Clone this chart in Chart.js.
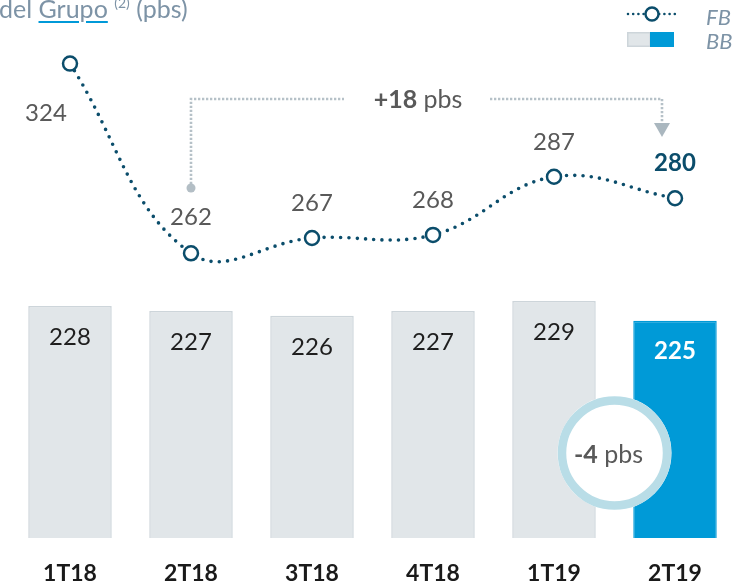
<!DOCTYPE html>
<html><head><meta charset="utf-8">
<script src="https://cdn.jsdelivr.net/npm/chart.js@4.4.0/dist/chart.umd.min.js"></script>
<style>
html,body{margin:0;padding:0;background:#fff;overflow:hidden;width:733px;height:586px;}
#wrap{position:absolute;left:0;top:0;width:745px;height:610px;}
#title{position:absolute;left:-1px;top:-7px;font-family:Lato,sans-serif;font-size:25px;color:#7d93a6;white-space:nowrap;}
#title .u{text-decoration:underline;text-decoration-color:#0099d8;text-decoration-thickness:2px;text-underline-offset:3px;}
#title sup{font-size:14px;position:relative;top:-1px;}
.leg{position:absolute;left:706px;font-family:Lato,sans-serif;font-style:italic;font-size:22px;color:#7d93a6;white-space:nowrap;}
</style></head>
<body>
<div id="wrap"><canvas id="c" width="745" height="610"></canvas></div>
<div id="title">del <span class="u">Grupo</span> <sup>(2)</sup> (pbs)</div>
<div class="leg" id="legFB" style="top:3px"></div>
<div class="leg" id="legBB" style="top:27px"></div>
<script>
const categories = ['1T18','2T18','3T18','4T18','1T19','2T19'];
const fbValues = [324, 262, 267, 268, 287, 280];
const bbValues = [228, 227, 226, 227, 229, 225];
const seriesNames = ['FB', 'BB'];
const fbChange = '+18';
const bbChange = '-4';
const unitText = 'pbs';

document.getElementById('legFB').textContent = seriesNames[0];
document.getElementById('legBB').textContent = seriesNames[1];

const TEAL = '#0b4d6b';
const GREY_BAR = '#e1e6e9';
const GREY_BORDER = '#cdd5da';
const BLUE = '#009ad7';
const LABEL = '#595959';
const last = categories.length - 1;

function dotted(ctx, pts, color) {
  ctx.save();
  ctx.strokeStyle = color; ctx.lineWidth = 2.6; ctx.setLineDash([2.3, 1.7]);
  ctx.beginPath(); ctx.moveTo(pts[0][0], pts[0][1]);
  for (let i = 1; i < pts.length; i++) ctx.lineTo(pts[i][0], pts[i][1]);
  ctx.stroke(); ctx.restore();
}
function richText(ctx, parts, cx, cy, size) {
  let w = 0;
  const widths = parts.map(p => { ctx.font = (p[1] ? 'bold ' : '') + size + 'px Lato'; const m = ctx.measureText(p[0]).width; w += m; return m; });
  let x = cx - w / 2;
  parts.forEach((p, i) => { ctx.font = (p[1] ? 'bold ' : '') + size + 'px Lato'; ctx.textAlign = 'left'; ctx.textBaseline = 'middle'; ctx.fillText(p[0], x, cy); x += widths[i]; });
}

const overlay = {
  id: 'overlay',
  afterDatasetsDraw(chart) {
    const ctx = chart.ctx;
    const xs = chart.scales.x, yB = chart.scales.yBB, yF = chart.scales.yFB;
    ctx.save();
    ctx.textAlign = 'center'; ctx.textBaseline = 'middle';
    bbValues.forEach((v, i) => {
      const x = xs.getPixelForValue(i), y = yB.getPixelForValue(v) + 31;
      ctx.font = (i === last ? 'bold ' : '') + '24px Lato';
      ctx.fillStyle = i === last ? '#ffffff' : '#1e1e1e';
      ctx.fillText(String(v), x, y);
    });
    const offs = [[-24, 50], [0, -36], [0, -35], [0, -35], [0, -35], [0, -35]];
    fbValues.forEach((v, i) => {
      const x = xs.getPixelForValue(i) + offs[i][0], y = yF.getPixelForValue(v) + offs[i][1];
      ctx.font = (i === last ? 'bold ' : '') + '24px Lato';
      ctx.fillStyle = i === last ? TEAL : LABEL;
      ctx.fillText(String(v), x, y);
    });
    ctx.restore();

    const x1 = xs.getPixelForValue(1), x6 = xs.getPixelForValue(last) - 13;
    const yTop = 99, yDot = 188;
    dotted(ctx, [[x1, yDot - 4], [x1, yTop], [344, yTop]], '#b6c1c8');
    dotted(ctx, [[490, yTop], [x6, yTop], [x6, 122]], '#b6c1c8');
    ctx.save();
    ctx.fillStyle = '#b3bec5';
    ctx.beginPath(); ctx.arc(x1, yDot, 4.5, 0, Math.PI * 2); ctx.fill();
    ctx.fillStyle = '#aab7bf';
    ctx.beginPath(); ctx.moveTo(x6 - 8, 123); ctx.lineTo(x6 + 8, 123); ctx.lineTo(x6, 137); ctx.closePath(); ctx.fill();
    ctx.fillStyle = LABEL;
    richText(ctx, [[fbChange, true], [' ' + unitText, false]], 418, 100, 25);
    ctx.restore();

    const bx = (xs.getPixelForValue(last - 1) + xs.getPixelForValue(last)) / 2, by = 453;
    ctx.save();
    ctx.fillStyle = '#ffffff';
    ctx.beginPath(); ctx.arc(bx, by, 57, 0, Math.PI * 2); ctx.fill();
    ctx.strokeStyle = '#b9dde7'; ctx.lineWidth = 8.5;
    ctx.beginPath(); ctx.arc(bx, by, 52.5, 0, Math.PI * 2); ctx.stroke();
    ctx.fillStyle = LABEL;
    richText(ctx, [[bbChange, true], [' ' + unitText, false]], bx - 6, by + 2, 25);
    ctx.restore();

    ctx.save();
    ctx.strokeStyle = TEAL; ctx.lineWidth = 2.6; ctx.lineCap = 'round'; ctx.setLineDash([0, 5.2]);
    ctx.beginPath(); ctx.moveTo(628, 14); ctx.lineTo(678, 14); ctx.stroke();
    ctx.setLineDash([]);
    ctx.fillStyle = '#fff'; ctx.lineWidth = 2.4;
    ctx.beginPath(); ctx.arc(652, 14, 6.5, 0, Math.PI * 2); ctx.fill(); ctx.stroke();
    ctx.fillStyle = GREY_BAR; ctx.fillRect(627, 32, 23, 15);
    ctx.strokeStyle = GREY_BORDER; ctx.lineWidth = 1.5; ctx.strokeRect(627.75, 32.75, 22.5, 13.5);
    ctx.fillStyle = BLUE; ctx.fillRect(650, 32, 24, 15);
    ctx.restore();
  }
};

new Chart(document.getElementById('c'), {
  data: {
    labels: categories,
    datasets: [
      {
        type: 'line', label: seriesNames[0], data: fbValues, yAxisID: 'yFB', order: 0,
        borderColor: TEAL, borderWidth: 3.6, borderDash: [0, 8.3], borderCapStyle: 'round',
        tension: 0.4, fill: false,
        pointRadius: 7, pointBorderWidth: 2.5, pointBackgroundColor: '#ffffff', pointBorderColor: TEAL
      },
      {
        type: 'bar', label: seriesNames[1], data: bbValues, yAxisID: 'yBB', order: 1,
        backgroundColor: bbValues.map((v, i) => i === last ? BLUE : GREY_BAR),
        borderColor: bbValues.map((v, i) => i === last ? BLUE : GREY_BORDER),
        borderWidth: 1.5, borderSkipped: false,
        barPercentage: 0.69, categoryPercentage: 1
      }
    ]
  },
  options: {
    responsive: false, animation: false, devicePixelRatio: 1,
    layout: { padding: { left: 5, right: 9, top: 30, bottom: 0.8 } },
    plugins: { legend: { display: false }, tooltip: { enabled: false } },
    scales: {
      x: {
        grid: { display: false, drawTicks: false }, border: { display: false },
        ticks: { color: '#1a1a1a', padding: 21.8, font: { family: 'Lato', size: 23, weight: 'bold' } },
        afterFit(scale) { scale.paddingLeft = 0; scale.paddingRight = 0; }
      },
      yFB: { display: false, min: 168.96, max: 334.97 },
      yBB: { display: false, min: 180.65, max: 284.32 }
    }
  },
  plugins: [overlay]
});
</script>
</body></html>
